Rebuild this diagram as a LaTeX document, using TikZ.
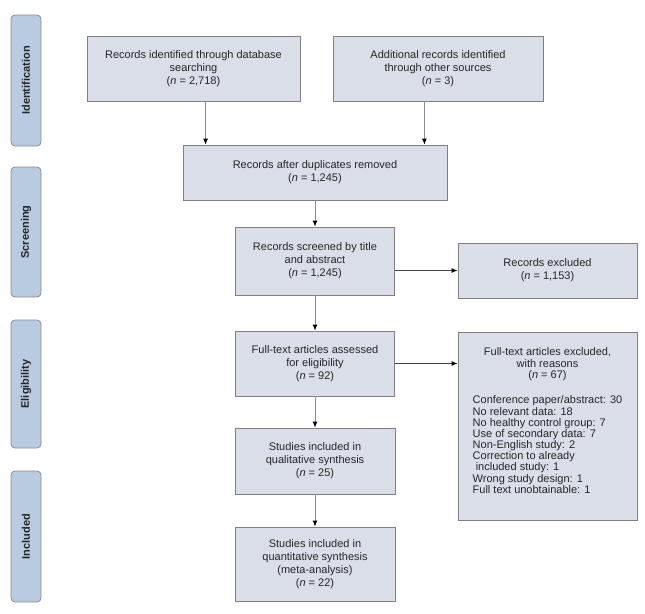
\documentclass[tikz,border=0pt]{standalone}
\usepackage{fontspec}
\setmainfont{Liberation Sans}
\usepackage{tikz}
\usetikzlibrary{arrows.meta,positioning}

\definecolor{boxfill}{RGB}{217,222,232}
\definecolor{boxline}{RGB}{128,128,128}
\definecolor{phasefill}{RGB}{185,203,225}
\definecolor{phaseline}{RGB}{140,140,140}
\definecolor{txt}{RGB}{38,38,38}

\begin{document}
\begin{tikzpicture}[x=1pt,y=-1pt,
  box/.style={rectangle, draw=boxline, fill=boxfill, line width=0.8pt, text=txt, align=center, inner sep=3pt, font=\fontsize{11}{13}\selectfont},
  phase/.style={rectangle, rounded corners=4pt, draw=phaseline, fill=phasefill, line width=0.8pt, text=txt, rotate=90, minimum height=30pt, font=\bfseries\fontsize{11}{13}\selectfont},
  arr/.style={draw=black!45, line width=0.9pt, -{Latex[length=6pt,width=5pt,color=black]}},
  harr/.style={arr, draw=black!75}]
  \useasboundingbox (0,0) rectangle (645,613);

  % phase labels
  \node [phase, minimum width=131pt] (idlab) at (26,80.5) {Identification};
  \node [phase, minimum width=130pt] (scrlab) at (26,232) {Screening};
  \node [phase, minimum width=128pt] (elilab) at (26,384) {Eligibility};
  \node [phase, minimum width=131pt] (inclab) at (26,536.5) {Included};

  % boxes
  \node [box, minimum width=213pt, minimum height=65pt] (dbsearch) at (193.5,68.5) {Records identified through database\\searching\\(\textit{n} = 2,718)};
  \node [box, minimum width=210pt, minimum height=65pt] (other) at (438,68.5) {Additional records identified\\through other sources\\(\textit{n} = 3)};
  \node [box, minimum width=264pt, minimum height=55pt] (dupl) at (315,172.5) {Records after duplicates removed\\(\textit{n} = 1,245)};
  \node [box, minimum width=159pt, minimum height=68pt] (screen) at (315,261) {Records screened by title\\and abstract\\(\textit{n} = 1,245)};
  \node [box, minimum width=179pt, minimum height=55pt] (recexcl) at (547.5,270.5) {Records excluded\\(\textit{n} = 1,153)};
  \node [box, minimum width=159pt, minimum height=65pt] (fulltext) at (315,363.5) {Full-text articles assessed\\for eligibility\\(\textit{n} = 92)};
  \node [box, minimum width=179pt, minimum height=188pt, font=\fontsize{11}{11.6}\selectfont] (ftexcl) at (547.5,426) {Full-text articles excluded,\\with reasons\\(\textit{n} = 67)\\[14pt]
    \fontsize{11}{10.7}\selectfont\begin{tabular}{@{}l@{}}
      Conference paper/abstract: 30\\
      No relevant data: 18\\
      No healthy control group: 7\\
      Use of secondary data: 7\\
      Non-English study: 2\\
      Correction to already\\
      \ included study: 1\\
      Wrong study design: 1\\
      Full text unobtainable: 1\\[8pt]
    \end{tabular}};
  \node [box, minimum width=160pt, minimum height=66pt] (qual) at (315,461) {Studies included in\\qualitative synthesis\\(\textit{n} = 25)};
  \node [box, minimum width=160pt, minimum height=74pt] (quant) at (315,564) {Studies included in\\quantitative synthesis\\(meta-analysis)\\(\textit{n} = 22)};

  % arrows
  \coordinate (inL) at ([xshift=23pt]dupl.north west);
  \coordinate (inR) at ([xshift=-23pt]dupl.north east);
  \draw [arr] (dbsearch.south -| inL) -- (inL);
  \draw [arr] (other.south -| inR) -- (inR);
  \draw [arr] (dupl) -- (screen);
  \draw [harr] (screen.east |- recexcl.west) -- (recexcl.west);
  \draw [arr] (screen) -- (fulltext);
  \draw [harr] (fulltext.east) -- (fulltext.east -| ftexcl.west);
  \draw [arr] (fulltext) -- (qual);
  \draw [arr] (qual) -- (quant);
\end{tikzpicture}
\end{document}
